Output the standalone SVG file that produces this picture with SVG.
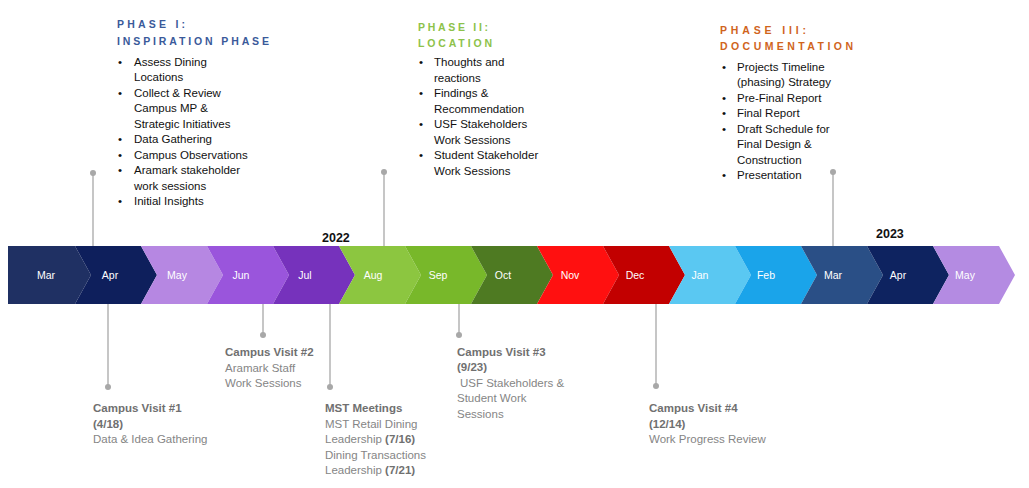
<svg xmlns="http://www.w3.org/2000/svg" width="1029" height="488" viewBox="0 0 1029 488">
<style>
.hdr{font-family:"Liberation Sans",Arial,sans-serif;font-weight:bold;font-size:10.5px}
.b{font-family:"Liberation Sans",Arial,sans-serif;font-size:11.5px;fill:#111}
.m{font-family:"Liberation Sans",Arial,sans-serif;font-size:10.5px;fill:#fff;text-anchor:middle}
.yr{font-family:"Liberation Sans",Arial,sans-serif;font-size:12.5px;font-weight:bold;fill:#111}
.g{font-family:"Liberation Sans",Arial,sans-serif;font-size:11.5px;fill:#858585}
.gb{font-weight:bold;fill:#707070}
.ln{stroke:#a0a0a0;stroke-width:1.2;fill:none}
.dot{fill:#a8a8a8}
</style>
<rect width="1029" height="488" fill="#fff"/>
<g id="timeline">
<polygon points="8,246 75,246 91,275 75,304 8,304" fill="#1f3063"/>
<polygon points="75,246 141,246 157,275 141,304 75,304 91,275" fill="#0e1f5c"/>
<polygon points="141,246 207,246 223,275 207,304 141,304 157,275" fill="#b687e2"/>
<polygon points="207,246 273,246 289,275 273,304 207,304 223,275" fill="#9a55dc"/>
<polygon points="273,246 339,246 355,275 339,304 273,304 289,275" fill="#7632bc"/>
<polygon points="339,246 405,246 421,275 405,304 339,304 355,275" fill="#8cc640"/>
<polygon points="405,246 471,246 487,275 471,304 405,304 421,275" fill="#78b82a"/>
<polygon points="471,246 537,246 553,275 537,304 471,304 487,275" fill="#4e7a22"/>
<polygon points="537,246 603,246 619,275 603,304 537,304 553,275" fill="#ff1010"/>
<polygon points="603,246 669,246 685,275 669,304 603,304 619,275" fill="#c20000"/>
<polygon points="669,246 735,246 751,275 735,304 669,304 685,275" fill="#5ac8f2"/>
<polygon points="735,246 801,246 817,275 801,304 735,304 751,275" fill="#1aa4ea"/>
<polygon points="801,246 867,246 883,275 867,304 801,304 817,275" fill="#2a4f86"/>
<polygon points="867,246 933,246 949,275 933,304 867,304 883,275" fill="#0e2360"/>
<polygon points="933,246 999,246 1015,275 999,304 933,304 949,275" fill="#b48be2"/>
<text class="m" x="46" y="279">Mar</text>
<text class="m" x="110" y="279">Apr</text>
<text class="m" x="177" y="279">May</text>
<text class="m" x="241" y="279">Jun</text>
<text class="m" x="305" y="279">Jul</text>
<text class="m" x="373" y="279">Aug</text>
<text class="m" x="438" y="279">Sep</text>
<text class="m" x="503" y="279">Oct</text>
<text class="m" x="570" y="279">Nov</text>
<text class="m" x="635" y="279">Dec</text>
<text class="m" x="700" y="279">Jan</text>
<text class="m" x="766" y="279">Feb</text>
<text class="m" x="833" y="279">Mar</text>
<text class="m" x="898" y="279">Apr</text>
<text class="m" x="965" y="279">May</text>
<text class="yr" x="322" y="242">2022</text>
<text class="yr" x="876" y="238">2023</text>
</g>
<g id="connectors">
<line class="ln" x1="93" y1="173" x2="93" y2="246"/><circle class="dot" cx="93" cy="173" r="3"/>
<line class="ln" x1="384" y1="172" x2="384" y2="246"/><circle class="dot" cx="384" cy="172" r="3"/>
<line class="ln" x1="833" y1="172" x2="833" y2="246"/><circle class="dot" cx="833" cy="172" r="3"/>
<line class="ln" x1="108" y1="304" x2="108" y2="387"/><circle class="dot" cx="108" cy="387" r="3"/>
<line class="ln" x1="263" y1="304" x2="263" y2="335"/><circle class="dot" cx="263" cy="335" r="3"/>
<line class="ln" x1="330" y1="304" x2="330" y2="387"/><circle class="dot" cx="330" cy="387" r="3"/>
<line class="ln" x1="459" y1="304" x2="459" y2="335"/><circle class="dot" cx="459" cy="335" r="3"/>
<line class="ln" x1="656" y1="304" x2="656" y2="386"/><circle class="dot" cx="656" cy="386" r="3"/>
</g>
<g id="phase1">
<text class="hdr" fill="#3a5a9a" x="117" y="28" textLength="68">PHASE I:</text>
<text class="hdr" fill="#3a5a9a" x="117" y="45" textLength="152">INSPIRATION PHASE</text>
<g class="b">
<text x="118" y="66">•</text><text x="134" y="66">Assess Dining</text>
<text x="134" y="81">Locations</text>
<text x="118" y="97">•</text><text x="134" y="97">Collect &amp; Review</text>
<text x="134" y="112">Campus MP &amp;</text>
<text x="134" y="128">Strategic Initiatives</text>
<text x="118" y="143">•</text><text x="134" y="143">Data Gathering</text>
<text x="118" y="159">•</text><text x="134" y="159">Campus Observations</text>
<text x="118" y="174">•</text><text x="134" y="174">Aramark stakeholder</text>
<text x="134" y="190">work sessions</text>
<text x="118" y="205">•</text><text x="134" y="205">Initial Insights</text>
</g>
</g>
<g id="phase2">
<text class="hdr" fill="#8dc24a" x="418" y="31" textLength="70">PHASE II:</text>
<text class="hdr" fill="#8dc24a" x="418" y="47" textLength="74">LOCATION</text>
<g class="b">
<text x="419" y="66">•</text><text x="434" y="66">Thoughts and</text>
<text x="434" y="82">reactions</text>
<text x="419" y="97">•</text><text x="434" y="97">Findings &amp;</text>
<text x="434" y="113">Recommendation</text>
<text x="419" y="128">•</text><text x="434" y="128">USF Stakeholders</text>
<text x="434" y="144">Work Sessions</text>
<text x="419" y="159">•</text><text x="434" y="159">Student Stakeholder</text>
<text x="434" y="175">Work Sessions</text>
</g>
</g>
<g id="phase3">
<text class="hdr" fill="#d0641c" x="720" y="34" textLength="86">PHASE III:</text>
<text class="hdr" fill="#d0641c" x="720" y="50" textLength="133">DOCUMENTATION</text>
<g class="b">
<text x="722" y="71">•</text><text x="737" y="71">Projects Timeline</text>
<text x="737" y="86">(phasing) Strategy</text>
<text x="722" y="102">•</text><text x="737" y="102">Pre-Final Report</text>
<text x="722" y="117">•</text><text x="737" y="117">Final Report</text>
<text x="722" y="133">•</text><text x="737" y="133">Draft Schedule for</text>
<text x="737" y="148">Final Design &amp;</text>
<text x="737" y="164">Construction</text>
<text x="722" y="179">•</text><text x="737" y="179">Presentation</text>
</g>
</g>
<g id="visit1" class="g">
<text class="gb" x="93" y="412">Campus Visit #1</text>
<text class="gb" x="93" y="428">(4/18)</text>
<text x="93" y="443">Data &amp; Idea Gathering</text>
</g>
<g id="visit2" class="g">
<text class="gb" x="225" y="356">Campus Visit #2</text>
<text x="225" y="372">Aramark Staff</text>
<text x="225" y="387">Work Sessions</text>
</g>
<g id="mst" class="g">
<text class="gb" x="325" y="412">MST Meetings</text>
<text x="325" y="428">MST Retail Dining</text>
<text x="325" y="443">Leadership <tspan class="gb">(7/16)</tspan></text>
<text x="325" y="459">Dining Transactions</text>
<text x="325" y="474">Leadership <tspan class="gb">(7/21)</tspan></text>
</g>
<g id="visit3" class="g">
<text class="gb" x="457" y="356">Campus Visit #3</text>
<text class="gb" x="457" y="371">(9/23)</text>
<text x="460" y="387">USF Stakeholders &amp;</text>
<text x="457" y="402">Student Work</text>
<text x="457" y="418">Sessions</text>
</g>
<g id="visit4" class="g">
<text class="gb" x="649" y="412">Campus Visit #4</text>
<text class="gb" x="649" y="428">(12/14)</text>
<text x="649" y="443">Work Progress Review</text>
</g>
</svg>
